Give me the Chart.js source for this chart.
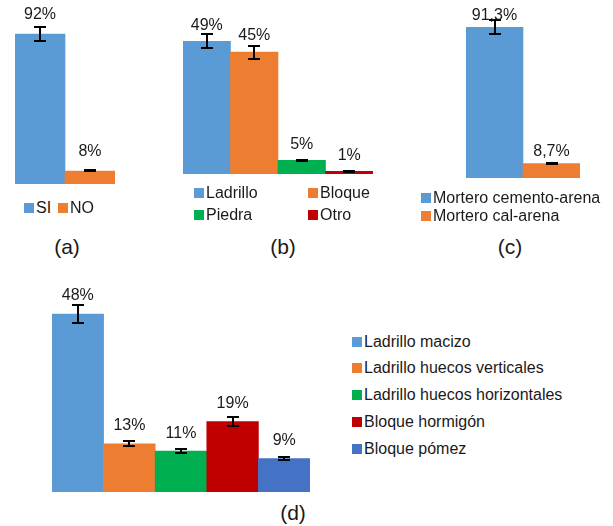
<!DOCTYPE html>
<html>
<head>
<meta charset="utf-8">
<script src="https://cdn.jsdelivr.net/npm/chart.js@4/dist/chart.umd.min.js"></script>
<style>
  html, body { margin: 0; padding: 0; background: #fff; }
  body { position: relative; width: 613px; height: 526px; overflow: hidden;
         font-family: "Liberation Sans", Arial, sans-serif; color: #1a1a1a; }
  canvas { position: absolute; }
  .lg { position: absolute; display: flex; align-items: center; font-size: 16px;
        line-height: 18px; height: 18px; white-space: nowrap; }
  .lg i { display: inline-block; width: 10px; height: 10px; margin-right: 2px; }
  .cap { position: absolute; font-size: 21px; transform: translate(-50%, -50%); white-space: nowrap; }
</style>
</head>
<body>
<canvas id="chartA" width="140" height="192" style="left:0px;top:0px"></canvas>
<canvas id="chartB" width="220" height="182" style="left:160px;top:0px"></canvas>
<canvas id="chartC" width="213" height="186" style="left:400px;top:0px"></canvas>
<canvas id="chartD" width="330" height="230" style="left:0px;top:270px"></canvas>

<script>
// Series colours
const BLUE = '#5B9BD5', ORANGE = '#ED7D31', GREEN = '#00B050', RED = '#C00000', NAVY = '#4472C4';

// (a) uses
const catsA = ['SI', 'NO'];
const valsA = [92, 8];
const errA  = [4.5, 0.3];
const colorsA = [BLUE, ORANGE];

// (b) wall material
const catsB = ['Ladrillo', 'Bloque', 'Piedra', 'Otro'];
const valsB = [49, 45, 5, 1];
const errB  = [2.5, 2.4, 0.3, 0.2];
const colorsB = [BLUE, ORANGE, GREEN, RED];

// (c) mortar type
const catsC = ['Mortero cemento-arena', 'Mortero cal-arena'];
const valsC = [91.3, 8.7];
const errC  = [4.2, 0.3];
const colorsC = [BLUE, ORANGE];

// (d) unit type
const catsD = ['Ladrillo macizo', 'Ladrillo huecos verticales', 'Ladrillo huecos horizontales', 'Bloque hormigón', 'Bloque pómez'];
const valsD = [48, 13, 11, 19, 9];
const errD  = [2.4, 0.7, 0.5, 1.1, 0.5];
const colorsD = [BLUE, ORANGE, GREEN, RED, NAVY];

// Draws the error whiskers and the percentage above every bar
const errorBars = {
  id: 'errorBars',
  afterDatasetsDraw(chart, args, opts) {
    const ctx = chart.ctx;
    const yScale = chart.scales.y;
    const ds = chart.data.datasets[0];
    const meta = chart.getDatasetMeta(0);
    ctx.save();
    meta.data.forEach((bar, i) => {
      const v = ds.data[i], e = opts.errors[i];
      const top = Math.round(yScale.getPixelForValue(v + e));
      const bot = Math.round(yScale.getPixelForValue(v - e));
      const x = Math.round(bar.x);
      const half = 6;
      ctx.strokeStyle = '#000';
      ctx.lineWidth = 2;
      ctx.beginPath();
      ctx.moveTo(x, top); ctx.lineTo(x, bot);
      ctx.moveTo(x - half, top); ctx.lineTo(x + half, top);
      ctx.moveTo(x - half, bot); ctx.lineTo(x + half, bot);
      ctx.stroke();

      ctx.fillStyle = '#1a1a1a';
      ctx.font = '16px "Liberation Sans", Arial, sans-serif';
      ctx.textAlign = 'center';
      ctx.textBaseline = 'middle';
      const txt = v.toFixed(opts.decimals).replace('.', ',') + '%';
      ctx.fillText(txt, bar.x, bar.y - opts.offset);
    });
    ctx.restore();
  }
};

function makePanel(id, cats, vals, errs, colors, yMax, pad, offset, decimals) {
  return new Chart(document.getElementById(id), {
    type: 'bar',
    data: {
      labels: cats,
      datasets: [{ data: vals, backgroundColor: colors, borderWidth: 0,
                   categoryPercentage: 1, barPercentage: 1 }]
    },
    options: {
      responsive: false,
      animation: false,
      devicePixelRatio: 1,
      layout: { padding: pad },
      scales: {
        x: { display: false },
        y: { display: false, min: 0, max: yMax }
      },
      plugins: {
        legend: { display: false },
        tooltip: { enabled: false },
        errorBars: { errors: errs, offset: offset, decimals: decimals }
      }
    },
    plugins: [errorBars]
  });
}

makePanel('chartA', catsA, valsA, errA, colorsA, 100, { left: 15, right: 25, top: 21, bottom: 8 }, 19, 0);
makePanel('chartB', catsB, valsB, errB, colorsB, 55,  { left: 23, right: 7,  top: 25, bottom: 8 }, 16, 0);
makePanel('chartC', catsC, valsC, errC, colorsC, 100, { left: 66, right: 33, top: 13, bottom: 8 }, 12, 1);
makePanel('chartD', catsD, valsD, errD, colorsD, 55,  { left: 52, right: 20, top: 18, bottom: 8 }, 18, 0);

// HTML legends: one entry per category, placed at [left, rowCentre]
function legend(cats, colors, spots) {
  cats.forEach((c, i) => {
    const d = document.createElement('div');
    d.className = 'lg';
    d.style.left = spots[i][0] + 'px';
    d.style.top = (spots[i][1] - 9) + 'px';
    const sq = document.createElement('i');
    sq.style.background = colors[i];
    d.appendChild(sq);
    d.appendChild(document.createTextNode(c));
    document.body.appendChild(d);
  });
}
legend(catsA, colorsA, [[24, 208], [58, 208]]);
legend(catsB, colorsB, [[194, 193], [308, 193], [194, 215], [308, 215]]);
legend(catsC, colorsC, [[421, 198], [421, 216]]);
legend(catsD, colorsD, [[352, 342], [352, 368], [352, 395], [352, 422], [352, 449]]);

// Panel captions
const captions = [['(a)', 67, 247], ['(b)', 283, 247], ['(c)', 510, 247], ['(d)', 293, 513]];
captions.forEach(([t, x, y]) => {
  const d = document.createElement('div');
  d.className = 'cap';
  d.style.left = x + 'px';
  d.style.top = y + 'px';
  d.textContent = t;
  document.body.appendChild(d);
});
</script>
</body>
</html>
